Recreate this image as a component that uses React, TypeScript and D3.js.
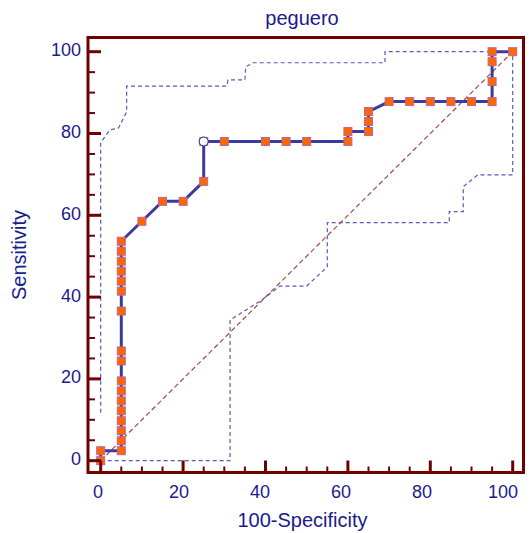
import React from "react";
import * as d3 from "d3";

// ROC points: 100-Specificity (x) and Sensitivity (y), in percent
const rocX = [0, 0, 5, 5, 5, 5, 5, 5, 5, 5, 5, 5, 5, 5, 5, 5, 5, 5, 5, 10, 15, 20, 25, 25, 30, 40, 45, 50, 60, 60, 65, 65, 65, 70, 75, 80, 85, 90, 95, 95, 95, 95, 100];
const rocY = [0, 2.44, 2.44, 4.88, 7.32, 9.76, 12.2, 14.63, 17.07, 19.51, 24.39, 26.83, 36.59, 41.46, 43.9, 46.34, 48.78, 51.22, 53.66, 58.54, 63.41, 63.41, 68.29, 78.05, 78.05, 78.05, 78.05, 78.05, 78.05, 80.49, 80.49, 82.93, 85.37, 87.8, 87.8, 87.8, 87.8, 87.8, 87.8, 92.68, 97.56, 100, 100];

// criterion point (open circle)
const critX = 25;
const critY = 78.05;

// confidence bounds
const upperX = [0, 0, 1, 2.3, 4.3, 5.3, 6.3, 6.3, 30.6, 30.9, 35, 35.2, 37, 69, 69, 100];
const upperY = [11.7, 77.7, 79.2, 80.9, 81.3, 83.3, 85.3, 91.6, 91.6, 93.1, 93.1, 96.3, 97.3, 97.3, 100, 100];
const lowerX = [0, 31.4, 31.4, 38.7, 43.5, 50, 55, 55, 84.6, 84.6, 88, 88, 91.5, 100, 100];
const lowerY = [0, 0, 34.4, 39, 42.7, 42.7, 47.4, 58.2, 58.2, 60.9, 60.9, 67, 69.9, 69.9, 99];

const tickValues = d3.range(0, 101, 5);
const labelValues = [0, 20, 40, 60, 80, 100];

const frame = { left: 88, right: 523.5, top: 37.5, bottom: 472.5 };
const textColor = "#1b1b8e";
const frameColor = "#700000";
const font = "'Liberation Sans', Arial, sans-serif";

export default function App() {
  const x = d3.scaleLinear().domain([0, 100]).range([100.7, 512.7]);
  const y = d3.scaleLinear().domain([0, 100]).range([460.7, 51.7]);
  // tick labels sit slightly off the ticks in the original
  const xLabel = d3.scaleLinear().domain([0, 100]).range([98, 503]);

  const line = d3.line<[number, number]>().x(d => x(d[0])).y(d => y(d[1]));
  const roc = rocX.map((v, i) => [v, rocY[i]] as [number, number]);
  const upper = upperX.map((v, i) => [v, upperY[i]] as [number, number]);
  const lower = lowerX.map((v, i) => [v, lowerY[i]] as [number, number]);

  return (
    <svg width={531} height={533} style={{ position: "absolute", left: 0, top: 0, background: "#fff" }} fontFamily={font}>
      <text x={302} y={25} fill={textColor} fontSize={20} textAnchor="middle">peguero</text>

      {/* confidence bounds */}
      <path d={line(upper) || ""} fill="none" stroke="#5a5ab8" strokeWidth={1.2} strokeDasharray="4,3" />
      <path d={line(lower) || ""} fill="none" stroke="#5a5ab8" strokeWidth={1.2} strokeDasharray="4,3" />

      {/* diagonal */}
      <line x1={x(0)} y1={y(0)} x2={x(100)} y2={y(100)} stroke="#a84848" strokeWidth={1.2} strokeDasharray="5,3" />

      {/* ROC curve */}
      <path d={line(roc) || ""} fill="none" stroke="#3b3b9e" strokeWidth={3} strokeLinejoin="round" />
      {roc.map((d, i) => (
        <rect key={i} x={x(d[0]) - 4} y={y(d[1]) - 4} width={8} height={8} fill="#ff6600" stroke="#b8689a" strokeWidth={1} />
      ))}
      <circle cx={x(critX)} cy={y(critY)} r={4.5} fill="#fff" stroke="#1e1e70" strokeWidth={1} />

      {/* frame */}
      <rect x={frame.left} y={frame.top} width={frame.right - frame.left} height={frame.bottom - frame.top} fill="none" stroke={frameColor} strokeWidth={3} />

      {/* y ticks */}
      {tickValues.map(v => {
        const major = v % 20 === 0;
        return (
          <line key={"y" + v} x1={frame.left} x2={frame.left + (major ? 13 : 7)} y1={y(v)} y2={y(v)} stroke={frameColor} strokeWidth={major ? 3 : 2} />
        );
      })}
      {/* x ticks */}
      {tickValues.map(v => {
        const major = v % 20 === 0;
        return (
          <line key={"x" + v} x1={x(v)} x2={x(v)} y1={frame.bottom} y2={frame.bottom - (major ? 12 : 6)} stroke={frameColor} strokeWidth={major ? 3 : 2} />
        );
      })}

      {labelValues.map(v => (
        <text key={"yl" + v} x={81} y={y(v) + 4.5} fill={textColor} fontSize={18} textAnchor="end">{v}</text>
      ))}
      {labelValues.map(v => (
        <text key={"xl" + v} x={xLabel(v)} y={498} fill={textColor} fontSize={18} textAnchor="middle">{v}</text>
      ))}

      <text x={302.5} y={527} fill={textColor} fontSize={20} textAnchor="middle">100-Specificity</text>
      <text transform="translate(26,255) rotate(-90)" fill={textColor} fontSize={20} textAnchor="middle">Sensitivity</text>
    </svg>
  );
}
